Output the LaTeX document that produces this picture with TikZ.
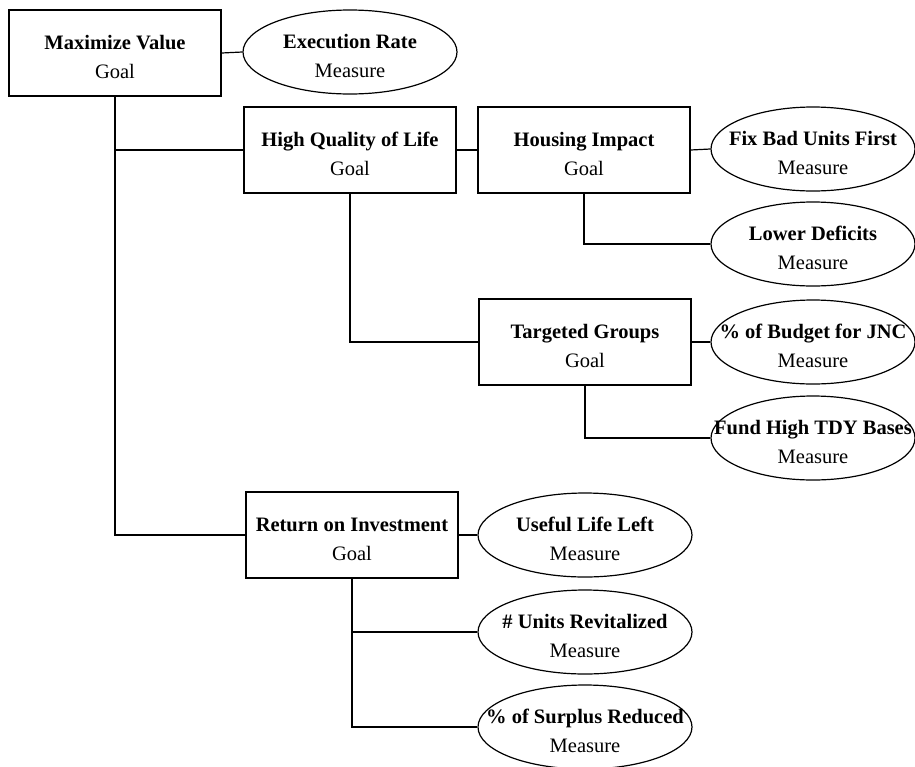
\documentclass[tikz,border=0pt]{standalone}
\usepackage{fontspec}
\setmainfont{Liberation Serif}
\usetikzlibrary{shapes.geometric}
\newcommand\goaltxt[1]{\rule{0pt}{22pt}{\bfseries #1}\\Goal}
\newcommand\meastxt[1]{\rule{0pt}{22pt}\makebox[0pt]{\bfseries #1}\\\makebox[0pt]{Measure}}
\tikzset{
  goalbox/.style={draw, rectangle, line width=1.2pt, minimum width=212pt, minimum height=86pt,
    inner sep=0pt, align=center, font=\fontsize{20.5}{29}\selectfont},
  measell/.style={draw, ellipse, line width=1.2pt, minimum width=214pt, minimum height=84pt,
    inner sep=0pt, align=center, font=\fontsize{20.5}{29}\selectfont},
  rightell/.style={measell, minimum width=204pt},
  conn/.style={line width=1.2pt}
}
\begin{document}
\begin{tikzpicture}[x=1pt,y=-1pt]
\useasboundingbox (0,0) rectangle (915,766);
% goals
\node[goalbox] (mv)  at (115,53)  {\goaltxt{Maximize Value}};
\node[goalbox] (hq)  at (350,150) {\goaltxt{High Quality of Life}};
\node[goalbox] (hi)  at (584,150) {\goaltxt{Housing Impact}};
\node[goalbox] (tg)  at (585,342) {\goaltxt{Targeted Groups}};
\node[goalbox] (roi) at (352,535) {\goaltxt{Return on Investment}};
% measures
\node[measell]  (er)  at (350,52)  {\meastxt{Execution Rate}};
\node[rightell] (fbu) at (813,149) {\meastxt{Fix Bad Units First}};
\node[rightell] (ld)  at (813,244) {\meastxt{Lower Deficits}};
\node[rightell] (pb)  at (813,342) {\meastxt{\% of Budget for JNC}};
\node[rightell] (fh)  at (813,438) {\meastxt{Fund High TDY Bases}};
\node[measell]  (ul)  at (585,535) {\meastxt{Useful Life Left}};
\node[measell]  (ur)  at (585,632) {\meastxt{\# Units Revitalized}};
\node[measell]  (sr)  at (585,727) {\meastxt{\% of Surplus Reduced}};
% connectors
\draw[conn] (mv.east) -- (er.west);
\draw[conn] (mv.south) |- (hq.west);
\draw[conn] (mv.south) |- (roi.west);
\draw[conn] (hq.east) -- (hi.west);
\draw[conn] (hi.east) -- (fbu.west);
\draw[conn] (hi.south) |- (ld.west);
\draw[conn] (hq.south) |- (tg.west);
\draw[conn] (tg.east) -- (pb.west);
\draw[conn] (tg.south) |- (fh.west);
\draw[conn] (roi.east) -- (ul.west);
\draw[conn] (roi.south) |- (ur.west);
\draw[conn] (roi.south) |- (sr.west);
\end{tikzpicture}
\end{document}
